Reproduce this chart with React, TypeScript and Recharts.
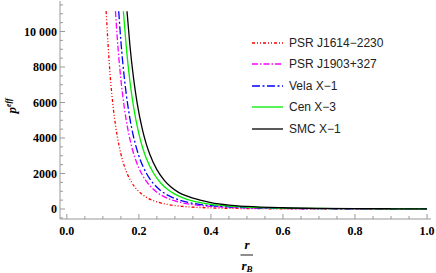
import React from 'react'
import { LineChart, Line, XAxis, YAxis } from 'recharts'

type Pt = { r: number; p: number }

// values
const psrJ1614: Pt[] = [
  { r: 0.109, p: 11150 }, { r: 0.12, p: 7600 }, { r: 0.13, p: 5510 }, { r: 0.14, p: 4100 },
  { r: 0.15, p: 3110 }, { r: 0.16, p: 2400 }, { r: 0.18, p: 1500 }, { r: 0.2, p: 984 },
  { r: 0.22, p: 672 }, { r: 0.25, p: 403 }, { r: 0.28, p: 256 }, { r: 0.32, p: 150 },
  { r: 0.36, p: 94 }, { r: 0.4, p: 61 }, { r: 0.5, p: 25 }, { r: 0.6, p: 12 },
  { r: 0.7, p: 7 }, { r: 0.8, p: 4 }, { r: 0.9, p: 2 }, { r: 1.0, p: 2 },
]
const psrJ1903: Pt[] = [
  { r: 0.135, p: 11150 }, { r: 0.14, p: 9630 }, { r: 0.15, p: 7310 }, { r: 0.16, p: 5650 },
  { r: 0.17, p: 4430 }, { r: 0.18, p: 3520 }, { r: 0.2, p: 2310 }, { r: 0.22, p: 1580 },
  { r: 0.25, p: 947 }, { r: 0.28, p: 602 }, { r: 0.32, p: 353 }, { r: 0.36, p: 220 },
  { r: 0.4, p: 145 }, { r: 0.45, p: 90 }, { r: 0.5, p: 59 }, { r: 0.6, p: 29 },
  { r: 0.7, p: 15 }, { r: 0.8, p: 9 }, { r: 0.9, p: 6 }, { r: 1.0, p: 4 },
]
const velaX1: Pt[] = [
  { r: 0.144, p: 11140 }, { r: 0.15, p: 9470 }, { r: 0.16, p: 7310 }, { r: 0.17, p: 5740 },
  { r: 0.18, p: 4560 }, { r: 0.19, p: 3676 }, { r: 0.2, p: 2990 }, { r: 0.22, p: 2044 },
  { r: 0.24, p: 1444 }, { r: 0.26, p: 1048 }, { r: 0.28, p: 779 }, { r: 0.32, p: 457 },
  { r: 0.36, p: 285 }, { r: 0.4, p: 187 }, { r: 0.45, p: 117 }, { r: 0.5, p: 77 },
  { r: 0.6, p: 37 }, { r: 0.7, p: 20 }, { r: 0.8, p: 12 }, { r: 0.9, p: 7 }, { r: 1.0, p: 5 },
]
const cenX3: Pt[] = [
  { r: 0.157, p: 11140 }, { r: 0.165, p: 9136 }, { r: 0.175, p: 7218 }, { r: 0.185, p: 5780 },
  { r: 0.2, p: 4231 }, { r: 0.21, p: 3481 }, { r: 0.22, p: 2890 }, { r: 0.24, p: 2040 },
  { r: 0.26, p: 1481 }, { r: 0.28, p: 1101 }, { r: 0.3, p: 836 }, { r: 0.33, p: 571 },
  { r: 0.36, p: 403 }, { r: 0.4, p: 264 }, { r: 0.45, p: 165 }, { r: 0.5, p: 108 },
  { r: 0.6, p: 52 }, { r: 0.7, p: 28 }, { r: 0.8, p: 17 }, { r: 0.9, p: 10 }, { r: 1.0, p: 7 },
]
const smcX1: Pt[] = [
  { r: 0.167, p: 11145 }, { r: 0.175, p: 9243 }, { r: 0.185, p: 7404 }, { r: 0.195, p: 5996 },
  { r: 0.21, p: 4457 }, { r: 0.22, p: 3700 }, { r: 0.23, p: 3099 }, { r: 0.25, p: 2220 },
  { r: 0.27, p: 1632 }, { r: 0.29, p: 1226 }, { r: 0.31, p: 939 }, { r: 0.34, p: 680 },
  { r: 0.37, p: 500 }, { r: 0.4, p: 360 }, { r: 0.45, p: 220 }, { r: 0.5, p: 145 },
  { r: 0.6, p: 70 }, { r: 0.7, p: 36 }, { r: 0.8, p: 21 }, { r: 0.9, p: 13 }, { r: 1.0, p: 9 },
]

const xTicks = [0, 0.05, 0.1, 0.15, 0.2, 0.25, 0.3, 0.35, 0.4, 0.45, 0.5, 0.55, 0.6, 0.65, 0.7, 0.75, 0.8, 0.85, 0.9, 0.95, 1.0]
const yTicks = [-500, 0, 500, 1000, 1500, 2000, 2500, 3000, 3500, 4000, 4500, 5000, 5500, 6000, 6500, 7000, 7500, 8000, 8500, 9000, 9500, 10000, 10500, 11000, 11500]

const series = [
  { name: 'PSR J1614−2230', data: psrJ1614, color: '#ff0000', dash: '3 2 1 2 1 2' },
  { name: 'PSR J1903+327', data: psrJ1903, color: '#ff00ff', dash: '6 2 1.5 2' },
  { name: 'Vela X−1', data: velaX1, color: '#0000ff', dash: '8 2.5 2 2.5' },
  { name: 'Cen X−3', data: cenX3, color: '#00ee00', dash: undefined },
  { name: 'SMC X−1', data: smcX1, color: '#000000', dash: undefined },
]

const FRAME = '#999999'
const SERIF = '"Liberation Serif", "Times New Roman", serif'
const serifBold = { fontFamily: SERIF, fontWeight: 'bold' as const, fontSize: 12 }
const mathText = { fontFamily: SERIF, fontWeight: 'bold' as const, fontStyle: 'italic' as const, fontSize: 13 }

const isMajorX = (v: number) => Math.abs(v * 5 - Math.round(v * 5)) < 1e-6
const isMajorY = (v: number) => v % 2000 === 0

const fmtY = (v: number) => (v >= 10000 ? v.toLocaleString('en-US').replace(',', ' ') : String(v))

function BottomTick({ x, y, payload }: any) {
  const major = isMajorX(payload.value)
  return (
    <g>
      <line x1={x} y1={y} x2={x} y2={y - (major ? 5 : 3)} stroke={FRAME} />
      {major && (
        <text x={x} y={y + 16} textAnchor="middle" style={serifBold} fill="#000">
          {payload.value.toFixed(1)}
        </text>
      )}
    </g>
  )
}

function TopTick({ x, y, payload }: any) {
  const major = isMajorX(payload.value)
  return <line x1={x} y1={y} x2={x} y2={y + (major ? 5 : 3)} stroke={FRAME} />
}

function LeftTick({ x, y, payload }: any) {
  const major = isMajorY(payload.value)
  return (
    <g>
      <line x1={x} y1={y} x2={x + (major ? 5 : 3)} y2={y} stroke={FRAME} />
      {major && (
        <text x={x - 3} y={y + 4} textAnchor="end" style={serifBold} fill="#000">
          {fmtY(payload.value)}
        </text>
      )}
    </g>
  )
}

function RightTick({ x, y, payload }: any) {
  const major = isMajorY(payload.value)
  return <line x1={x} y1={y} x2={x - (major ? 5 : 3)} y2={y} stroke={FRAME} />
}

function LegendBox() {
  return (
    <div
      style={{
        position: 'absolute',
        left: 251,
        top: 32,
        fontFamily: '"Liberation Sans", Arial, sans-serif',
        fontSize: 12,
        color: '#222',
      }}
    >
      {series.map((s) => (
        <div key={s.name} style={{ display: 'flex', alignItems: 'center', height: 21.5 }}>
          <svg width={36} height={8} style={{ display: 'block' }}>
            <line x1={1} y1={4} x2={32} y2={4} stroke={s.color} strokeWidth={1.3} strokeDasharray={s.dash} />
          </svg>
          <span style={{ marginLeft: 2 }}>{s.name}</span>
        </div>
      ))}
    </div>
  )
}

export default function App() {
  return (
    <div style={{ position: 'absolute', left: 0, top: 0, width: 436, height: 273 }}>
      <LineChart width={436} height={273} margin={{ top: 1, right: 5, bottom: 0, left: 0 }}>
        <XAxis
          type="number"
          dataKey="r"
          domain={[-0.019, 1.011]}
          ticks={xTicks}
          interval={0}
          tickSize={0}
          tickMargin={0}
          tickLine={false}
          axisLine={{ stroke: FRAME }}
          height={54}
          tick={<BottomTick />}
          allowDataOverflow
        />
        <XAxis
          xAxisId="top"
          orientation="top"
          type="number"
          domain={[-0.019, 1.011]}
          ticks={xTicks}
          interval={0}
          tickSize={0}
          tickMargin={0}
          tickLine={false}
          axisLine={{ stroke: FRAME }}
          height={0}
          tick={<TopTick />}
          allowDataOverflow
        />
        <YAxis
          type="number"
          dataKey="p"
          domain={[-563, 11719]}
          ticks={yTicks}
          interval={0}
          tickSize={0}
          tickMargin={0}
          tickLine={false}
          axisLine={{ stroke: FRAME }}
          width={60}
          tick={<LeftTick />}
          allowDataOverflow
        />
        <YAxis
          yAxisId="right"
          orientation="right"
          type="number"
          domain={[-563, 11719]}
          ticks={yTicks}
          interval={0}
          tickSize={0}
          tickMargin={0}
          tickLine={false}
          axisLine={{ stroke: FRAME }}
          width={0}
          tick={<RightTick />}
          allowDataOverflow
        />
        {series.map((s) => (
          <Line
            key={s.name}
            data={s.data}
            dataKey="p"
            name={s.name}
            type="monotone"
            stroke={s.color}
            strokeWidth={1.3}
            strokeDasharray={s.dash}
            dot={false}
            activeDot={false}
            isAnimationActive={false}
          />
        ))}
      </LineChart>
      <LegendBox />
      <svg width={436} height={273} style={{ position: 'absolute', left: 0, top: 0, pointerEvents: 'none' }}>
        <text transform="translate(16, 106) rotate(-90)" textAnchor="middle" style={mathText}>
          p<tspan dy={-5} style={{ fontSize: 8 }}>eff</tspan>
        </text>
        <text x={247} y={249} textAnchor="middle" style={mathText}>
          r
        </text>
        <line x1={240.5} y1={255} x2={253} y2={255} stroke="#444" strokeWidth={1.2} />
        <text x={247} y={270} textAnchor="middle" style={mathText}>
          r<tspan dy={2} style={{ fontSize: 9 }}>B</tspan>
        </text>
      </svg>
    </div>
  )
}
